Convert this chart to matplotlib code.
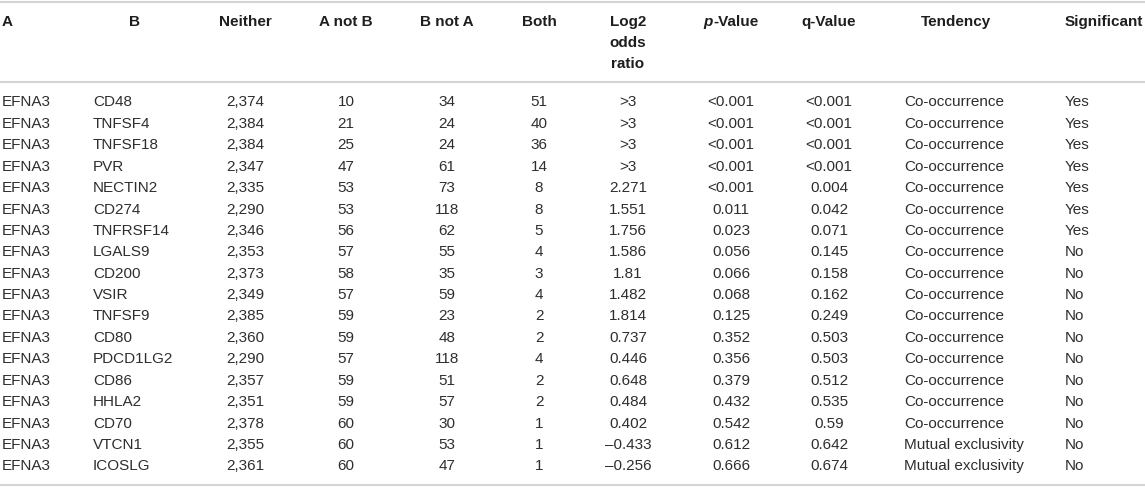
import matplotlib
matplotlib.use("Agg")
import matplotlib.pyplot as plt

# table contents, one list per column
gene_a = ["EFNA3"] * 18
gene_b = ["CD48", "TNFSF4", "TNFSF18", "PVR", "NECTIN2", "CD274", "TNFRSF14",
          "LGALS9", "CD200", "VSIR", "TNFSF9", "CD80", "PDCD1LG2", "CD86",
          "HHLA2", "CD70", "VTCN1", "ICOSLG"]
neither = ["2,374", "2,384", "2,384", "2,347", "2,335", "2,290", "2,346", "2,353",
           "2,373", "2,349", "2,385", "2,360", "2,290", "2,357", "2,351", "2,378",
           "2,355", "2,361"]
a_not_b = ["10", "21", "25", "47", "53", "53", "56", "57", "58", "57", "59", "59",
           "57", "59", "59", "60", "60", "60"]
b_not_a = ["34", "24", "24", "61", "73", "118", "62", "55", "35", "59", "23", "48",
           "118", "51", "57", "30", "53", "47"]
both = ["51", "40", "36", "14", "8", "8", "5", "4", "3", "4", "2", "2", "4", "2",
        "2", "1", "1", "1"]
log2_or = [">3", ">3", ">3", ">3", "2.271", "1.551", "1.756", "1.586", "1.81",
           "1.482", "1.814", "0.737", "0.446", "0.648", "0.484", "0.402",
           "\u20130.433", "\u20130.256"]
p_value = ["<0.001"] * 5 + ["0.011", "0.023", "0.056", "0.066", "0.068", "0.125",
                            "0.352", "0.356", "0.379", "0.432", "0.542", "0.612",
                            "0.666"]
q_value = ["<0.001"] * 4 + ["0.004", "0.042", "0.071", "0.145", "0.158", "0.162",
                            "0.249", "0.503", "0.503", "0.512", "0.535", "0.59",
                            "0.642", "0.674"]
tendency = ["Co-occurrence"] * 16 + ["Mutual exclusivity"] * 2
significant = ["Yes"] * 7 + ["No"] * 11

headers = ["A", "B", "Neither", "A not B", "B not A", "Both", "Log2\nodds\nratio",
           "p-Value", "q-Value", "Tendency", "Significant"]

# layout in pixels: (data x, data align, header x, header align)
cols = [
    (2, "left", 2, "left"),
    (93, "left", 134, "center"),
    (245, "center", 245, "center"),
    (346, "center", 346, "center"),
    (447, "center", 447, "center"),
    (539, "center", 539, "center"),
    (628, "center", 628, "center"),
    (731, "center", 731, "center"),
    (829, "center", 829, "center"),
    (904, "left", 956, "center"),
    (1065, "left", 1065, "left"),
]

W, H = 1145, 487
plt.rcParams["font.family"] = ["Liberation Sans", "DejaVu Sans"]
fig = plt.figure(figsize=(W / 100, H / 100), dpi=100)
ax = fig.add_axes([0, 0, 1, 1])
ax.set_xlim(0, W)
ax.set_ylim(H, 0)
ax.axis("off")

line_c = "#d4d4d4"
ax.axhline(2, color=line_c, lw=1.5)
ax.axhline(82, color=line_c, lw=1.5)
ax.axhline(485, color=line_c, lw=1.5)

fs = 11
hdr_c = "#1e1e1e"
renderer = fig.canvas.get_renderer()
for (dx, dha, hx, hha), h in zip(cols, headers):
    if h == "p-Value":
        # italic p, rest upright: place both halves around the column centre
        full = ax.text(hx, 26, h, ha="center", va="baseline", fontsize=fs,
                       fontweight="bold", alpha=0)
        bb = full.get_window_extent(renderer)
        left = ax.transData.inverted().transform((bb.x0, bb.y0))[0]
        pt = ax.text(left, 26, "p", ha="left", va="baseline", fontsize=fs,
                     fontweight="bold", fontstyle="italic", color=hdr_c)
        pb = pt.get_window_extent(renderer)
        right = ax.transData.inverted().transform((pb.x1, pb.y0))[0]
        ax.text(right, 26, "-Value", ha="left", va="baseline", fontsize=fs,
                fontweight="bold", color=hdr_c)
        continue
    for k, part in enumerate(h.split("\n")):
        ax.text(hx, 26 + k * 21, part, ha=hha, va="baseline", fontsize=fs,
                fontweight="bold", color=hdr_c)

columns = [gene_a, gene_b, neither, a_not_b, b_not_a, both, log2_or,
           p_value, q_value, tendency, significant]
y0, dy = 102.5, 21.4
for (dx, dha, hx, hha), vals in zip(cols, columns):
    for i, v in enumerate(vals):
        ax.text(dx, y0 + i * dy, v, ha=dha, va="center", fontsize=fs,
                color="#2e2e2e")

fig.savefig("out.png", dpi=100)
